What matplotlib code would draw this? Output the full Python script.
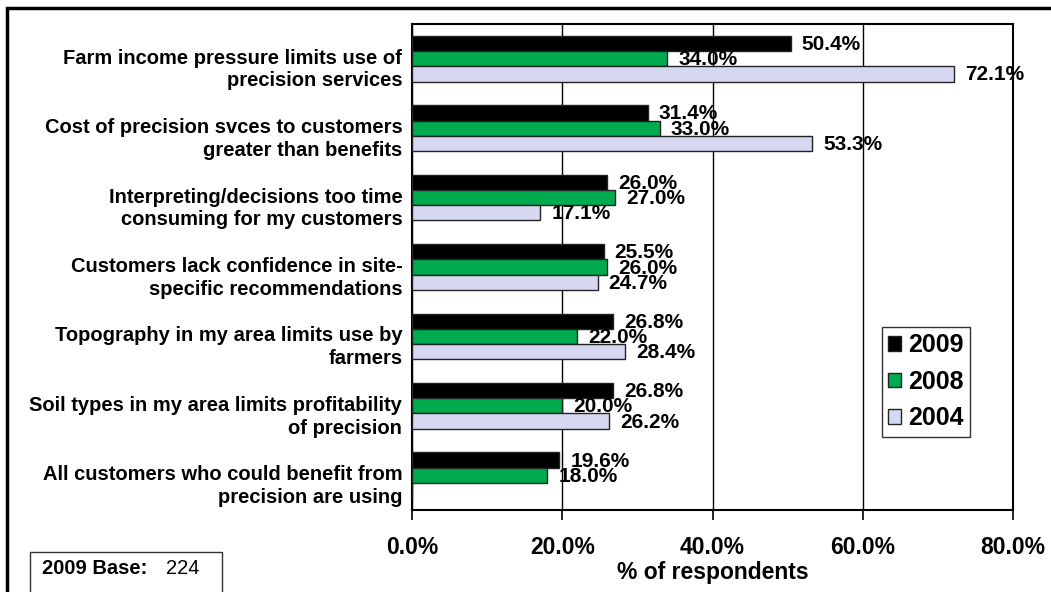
import numpy as np
import matplotlib
matplotlib.use('Agg')
import matplotlib.pyplot as plt
import matplotlib.patches as mpatches
import matplotlib.transforms as mtransforms

plt.rcParams['font.family'] = ['Liberation Sans', 'DejaVu Sans']

categories = [
    'Farm income pressure limits use of\nprecision services',
    'Cost of precision svces to customers\ngreater than benefits',
    'Interpreting/decisions too time\nconsuming for my customers',
    'Customers lack confidence in site-\nspecific recommendations',
    'Topography in my area limits use by\nfarmers',
    'Soil types in my area limits profitability\nof precision',
    'All customers who could benefit from\nprecision are using',
]
series_names = ['2009', '2008', '2004']
vals_2009 = [50.4, 31.4, 26.0, 25.5, 26.8, 26.8, 19.6]
vals_2008 = [34.0, 33.0, 27.0, 26.0, 22.0, 20.0, 18.0]
vals_2004 = [72.1, 53.3, 17.1, 24.7, 28.4, 26.2, np.nan]
x_ticks = [0, 20, 40, 60, 80]

COLORS = ['#000000', '#00AA4F', '#D6D8F2']

W, H = 1051, 592
fig = plt.figure(figsize=(W / 100, H / 100), dpi=100)
ax = fig.add_axes([412 / W, 1 - 510 / H, (1013 - 412) / W, (510 - 24) / H])

n = len(categories)
y = np.arange(n)
bar_h = 0.22
series = [vals_2009, vals_2008, vals_2004]
for i, (vals, name, col) in enumerate(zip(series, series_names, COLORS)):
    pos = y + (i - 1) * bar_h
    v = np.array(vals, dtype=float)
    ax.barh(pos, np.nan_to_num(v), height=bar_h, color=col, edgecolor='#222222',
            linewidth=1.0, label=name, zorder=3)
    for p, val in zip(pos, v):
        if np.isnan(val):
            continue
        ax.annotate(f'{val:.1f}%', xy=(val, p), xytext=(11, -1),
                    textcoords='offset pixels', ha='left', va='center',
                    fontsize=15, fontweight='bold', zorder=4)

ax.set_ylim(n - 0.5, -0.5)
ax.set_xlim(0, 80)
ax.set_xticks(x_ticks)
ax.set_xticklabels([f'{t:.1f}%' for t in x_ticks], fontsize=16.5, fontweight='bold')
ax.tick_params(axis='x', length=7, width=1.2, pad=12, color='black')
ax.set_yticks(y)
ax.set_yticklabels(categories, fontsize=14.5, fontweight='bold', ha='right', linespacing=1.25)
ax.tick_params(axis='y', length=0, pad=7)
# category labels sit a little below the bar group centre, as in the original
shift = mtransforms.ScaledTranslation(0, -7 / 100, fig.dpi_scale_trans)
for lbl in ax.get_yticklabels():
    lbl.set_transform(lbl.get_transform() + shift)
ax.xaxis.grid(True, color='black', linewidth=1.0, zorder=0)
for s in ax.spines.values():
    s.set_linewidth(1.5)
    s.set_color('black')
ax.set_xlabel('% of respondents', fontsize=16.5, fontweight='bold', labelpad=1)

leg = ax.legend(loc='upper left', bbox_to_anchor=(882 / W, 1 - 327 / H),
                bbox_transform=fig.transFigure, prop={'weight': 'bold', 'size': 18},
                frameon=True, fancybox=False, edgecolor='black', handlelength=0.5,
                handleheight=0.5, handletextpad=0.28, borderpad=0.25, labelspacing=0.5,
                borderaxespad=0)
leg.get_frame().set_linewidth(1.0)

# outer frame of the figure
fig.patches.append(mpatches.Rectangle((7 / W, -0.1), 1.2, 1.1 - 8 / H,
                                      transform=fig.transFigure, fill=False,
                                      edgecolor='black', linewidth=2.5))
# base box
fig.patches.append(mpatches.Rectangle((30 / W, -0.1), (222 - 30) / W, 0.1 + 1 - 552 / H,
                                      transform=fig.transFigure, fill=False,
                                      edgecolor='#333333', linewidth=1.0))
fig.text(42 / W, 1 - 568 / H, '2009 Base:', fontsize=14.5, fontweight='bold', va='center')
fig.text(166 / W, 1 - 568 / H, '224', fontsize=14.5, va='center')

fig.savefig('out.png', dpi=100, facecolor='white')
